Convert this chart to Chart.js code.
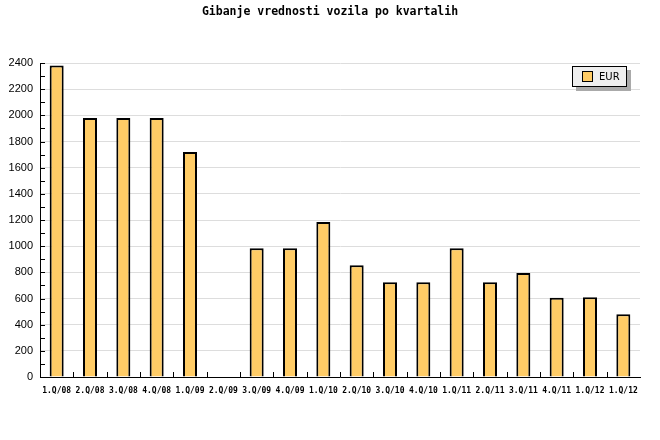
<!DOCTYPE html>
<html>
<head>
<meta charset="utf-8">
<script src="https://cdn.jsdelivr.net/npm/chart.js@4/dist/chart.umd.min.js"></script>
<style>
html,body{margin:0;padding:0;background:#fff;}
#wrap{width:660px;height:440px;}
</style>
</head>
<body>
<div id="wrap"><canvas id="c" width="660" height="440"></canvas></div>
<script>
const titleText = "Gibanje vrednosti vozila po kvartalih";
const seriesLabel = "EUR";
const categories = ["1.Q/08","2.Q/08","3.Q/08","4.Q/08","1.Q/09","2.Q/09","3.Q/09","4.Q/09","1.Q/10","2.Q/10","3.Q/10","4.Q/10","1.Q/11","2.Q/11","3.Q/11","4.Q/11","1.Q/12","1.Q/12"];
const eurValues = [2380,1980,1980,1980,1720,null,985,985,1185,855,725,725,985,725,795,605,610,480];
const yTicks = [0,200,400,600,800,1000,1200,1400,1600,1800,2000,2200,2400];

const extras = {
  id: 'extras',
  afterDraw(chart) {
    const ctx = chart.ctx;
    const area = chart.chartArea;
    const ys = chart.scales.y, xs = chart.scales.x;
    ctx.save();
    // title
    ctx.fillStyle = '#000';
    ctx.font = 'bold 11.5px "DejaVu Sans Mono"';
    ctx.textAlign = 'center';
    ctx.textBaseline = 'middle';
    ctx.fillText(titleText, 330, 12);
    // y ticks (inside)
    ctx.strokeStyle = '#000';
    ctx.lineWidth = 1;
    ctx.beginPath();
    for (let v = 0; v <= 2400; v += 100) {
      const y = Math.round(ys.getPixelForValue(v)) + 0.5;
      ctx.moveTo(area.left, y);
      ctx.lineTo(area.left + 5, y);
    }
    // x ticks at category boundaries (inside)
    const n = chart.data.labels.length;
    for (let i = 1; i < n; i++) {
      const x = Math.round((xs.getPixelForValue(i - 1) + xs.getPixelForValue(i)) / 2) + 0.5;
      ctx.moveTo(x, area.bottom);
      ctx.lineTo(x, area.bottom - 5);
    }
    ctx.stroke();
    // legend
    const ds = chart.data.datasets[0];
    const lx = 572, ly = 66, lw = 55, lh = 21;
    ctx.fillStyle = '#aaaaaa';
    ctx.fillRect(lx + 4, ly + 4, lw, lh);
    ctx.fillStyle = '#eeeeee';
    ctx.fillRect(lx, ly, lw, lh);
    ctx.strokeStyle = '#000';
    ctx.strokeRect(lx + 0.5, ly + 0.5, lw - 1, lh - 1);
    ctx.fillStyle = ds.backgroundColor;
    ctx.fillRect(lx + 10, ly + 5, 10, 10);
    ctx.strokeRect(lx + 10.5, ly + 5.5, 10, 10);
    ctx.fillStyle = '#000';
    ctx.font = '10px "DejaVu Sans"';
    ctx.textAlign = 'left';
    ctx.textBaseline = 'middle';
    ctx.fillText(ds.label, lx + 27, ly + 11);
    ctx.restore();
  }
};

new Chart(document.getElementById('c'), {
  type: 'bar',
  data: {
    labels: categories,
    datasets: [{
      label: seriesLabel,
      data: eurValues,
      backgroundColor: '#FFCC66',
      borderColor: '#000',
      borderWidth: 2,
      barPercentage: 0.42,
      categoryPercentage: 1.0
    }]
  },
  options: {
    responsive: false,
    animation: false,
    layout: { padding: { top: 63, right: 20, bottom: 0, left: 0 } },
    plugins: { legend: { display: false }, title: { display: false }, tooltip: { enabled: false } },
    scales: {
      x: {
        offset: true,
        grid: { display: false, drawTicks: false },
        border: { color: '#000', width: 1 },
        ticks: { color: '#000', font: { family: 'DejaVu Sans Mono', size: 8, weight: 'bold' }, maxRotation: 0, autoSkip: false, padding: 9 },
        afterFit(s) { s.height = 63; }
      },
      y: {
        min: 0, max: 2400,
        afterBuildTicks(s) { s.ticks = yTicks.map(v => ({ value: v })); },
        grid: { color: '#dddddd', drawTicks: false },
        border: { color: '#000', width: 1 },
        ticks: { color: '#000', font: { family: 'Liberation Sans', size: 11 }, padding: 7, callback: v => String(v) },
        afterFit(s) { s.width = 40; }
      }
    }
  },
  plugins: [extras]
});
</script>
</body>
</html>
